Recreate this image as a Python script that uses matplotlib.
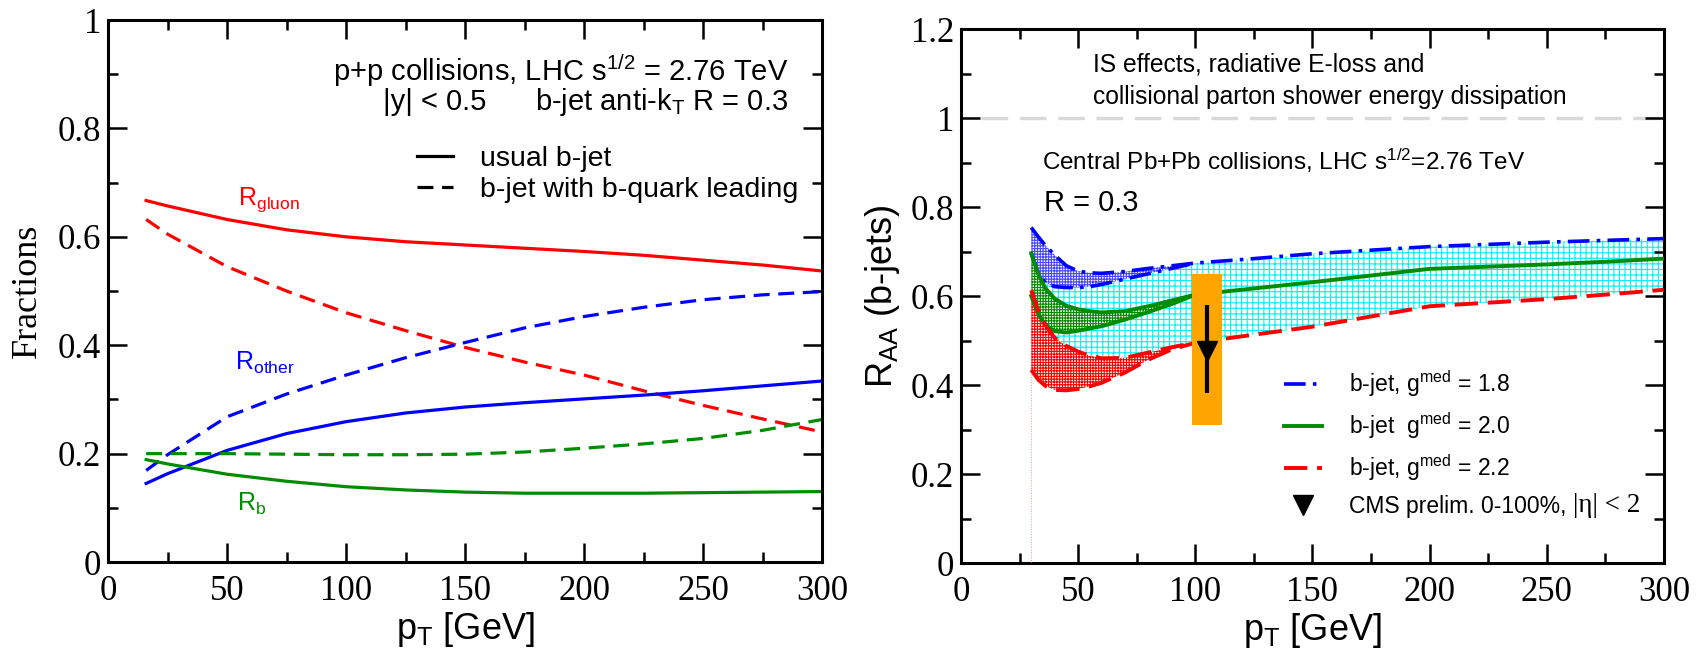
import matplotlib
matplotlib.use("Agg")
import matplotlib.pyplot as plt
from matplotlib.lines import Line2D
from matplotlib.ticker import MultipleLocator, FuncFormatter

# ---------------- p+p parton fractions (left panel) ----------------
pt_pp = [16, 25, 50, 75, 100, 125, 150, 175, 200, 225, 250, 275, 300]
gluon_usual = [0.667, 0.657, 0.632, 0.613, 0.600, 0.591, 0.585, 0.579, 0.573, 0.566, 0.557, 0.548, 0.537]
gluon_lead = [0.632, 0.605, 0.545, 0.500, 0.460, 0.427, 0.396, 0.369, 0.345, 0.316, 0.289, 0.264, 0.240]
other_usual = [0.145, 0.163, 0.206, 0.237, 0.259, 0.275, 0.286, 0.294, 0.301, 0.308, 0.316, 0.325, 0.334]
other_lead = [0.169, 0.198, 0.268, 0.310, 0.345, 0.377, 0.405, 0.432, 0.453, 0.470, 0.484, 0.493, 0.499]
b_usual = [0.189, 0.181, 0.162, 0.149, 0.139, 0.133, 0.129, 0.127, 0.127, 0.127, 0.128, 0.129, 0.130]
b_lead = [0.200, 0.200, 0.200, 0.199, 0.198, 0.198, 0.199, 0.203, 0.210, 0.218, 0.228, 0.243, 0.263]

# ---------------- Pb+Pb b-jet R_AA (right panel) ----------------
pt_aa = [30, 33, 36, 40, 45, 50, 55, 60, 70, 80, 90, 100, 125, 150, 175, 200, 225, 250, 275, 300]
raa_g18 = [0.754, 0.733, 0.714, 0.692, 0.668, 0.656, 0.652, 0.651, 0.655, 0.662, 0.668, 0.674,
           0.684, 0.695, 0.703, 0.711, 0.716, 0.721, 0.725, 0.729]
raa_g20 = [0.696, 0.650, 0.618, 0.594, 0.578, 0.570, 0.566, 0.563, 0.566, 0.577, 0.590, 0.603,
           0.617, 0.631, 0.646, 0.661, 0.666, 0.671, 0.677, 0.684]
raa_g22 = [0.613, 0.568, 0.535, 0.506, 0.488, 0.475, 0.466, 0.460, 0.461, 0.473, 0.485, 0.495,
           0.513, 0.531, 0.554, 0.577, 0.585, 0.593, 0.603, 0.614]

# low-pT lower edges of the three bands
pt_band = [30, 33, 36, 40, 45, 50, 55, 60, 70, 80, 90, 100]
raa_g18_low = [0.696, 0.650, 0.630, 0.621, 0.619, 0.619, 0.621, 0.626, 0.638, 0.650, 0.662, 0.674]
raa_g20_low = [0.600, 0.560, 0.535, 0.521, 0.518, 0.522, 0.527, 0.532, 0.547, 0.564, 0.582, 0.603]
raa_g22_low = [0.434, 0.412, 0.398, 0.389, 0.388, 0.391, 0.397, 0.405, 0.428, 0.457, 0.480, 0.495]

# CMS preliminary point
cms_pt, cms_dpt = 105.0, 6.3
cms_raa = 0.477
cms_stat = (0.381, 0.580)
cms_sys = (0.310, 0.649)

SANS = "Liberation Sans"
SERIF = "Liberation Serif"
plt.rcParams["font.family"] = SANS
plt.rcParams["mathtext.default"] = "regular"
plt.rcParams["hatch.linewidth"] = 0.8

fig = plt.figure(figsize=(17.02, 6.49), dpi=100)
ax1 = fig.add_axes([0.0635, 0.134, 0.4195, 0.8351])
ax2 = fig.add_axes([0.5646, 0.1325, 0.4130, 0.8228])


def style_axes(ax, ymax):
    ax.set_xlim(0, 300)
    ax.set_ylim(0, ymax)
    ax.xaxis.set_major_locator(MultipleLocator(50))
    ax.xaxis.set_minor_locator(MultipleLocator(25))
    ax.yaxis.set_major_locator(MultipleLocator(0.2))
    ax.yaxis.set_minor_locator(MultipleLocator(0.1))
    fmt = FuncFormatter(lambda v, p: f"{v:g}")
    ax.xaxis.set_major_formatter(fmt)
    ax.yaxis.set_major_formatter(fmt)
    ax.tick_params(which="both", direction="in", top=True, right=True, width=1.8,
                   labelsize=25, labelfontfamily=SERIF)
    ax.tick_params(which="major", length=13.5)
    ax.tick_params(which="minor", length=7)
    ax.tick_params(axis="x", pad=9)
    ax.tick_params(axis="y", pad=5)
    for s in ax.spines.values():
        s.set_linewidth(2.2)


style_axes(ax1, 1.0)
style_axes(ax2, 1.2)

RED, BLUE, GREEN = "#ff0000", "#0000ff", "#008c00"
dash = (0, (5, 2.7))
lw = 2.3

# ---- left panel curves
ax1.plot(pt_pp, gluon_usual, color=RED, lw=lw)
ax1.plot(pt_pp, gluon_lead, color=RED, lw=lw, ls=dash)
ax1.plot(pt_pp, other_usual, color=BLUE, lw=lw)
ax1.plot(pt_pp, other_lead, color=BLUE, lw=lw, ls=dash)
ax1.plot(pt_pp, b_usual, color=GREEN, lw=lw)
ax1.plot(pt_pp, b_lead, color=GREEN, lw=lw, ls=dash)

ax1.text(54.6, 0.659, r"R$_{gluon}$", color=RED, fontsize=18, va="baseline")
ax1.text(53.5, 0.354, r"R$_{other}$", color=BLUE, fontsize=18, va="baseline")
ax1.text(54.3, 0.095, r"R$_{b}$", color=GREEN, fontsize=18, va="baseline")

ax1.text(285.7, 0.906, r"p+p collisions, LHC s$^{1/2}$ = 2.76 TeV", ha="right", va="center", fontsize=21)
ax1.text(115.4, 0.849, "|y| < 0.5", ha="left", va="center", fontsize=21)
ax1.text(285.7, 0.849, r"b-jet anti-k$_T$ R = 0.3", ha="right", va="center", fontsize=21)

leg1 = ax1.legend([Line2D([], [], color="black", lw=lw),
                   Line2D([], [], color="black", lw=lw, ls=dash)],
                  ["usual b-jet", "b-jet with b-quark leading"],
                  loc="upper left", bbox_to_anchor=(0.433, 0.767), frameon=False,
                  fontsize=20.5, handlelength=1.27, handletextpad=0.95,
                  labelspacing=0.15, borderpad=0, borderaxespad=0)

ax1.set_xlabel(r"p$_T$ [GeV]", fontsize=26, labelpad=2)
ax1.set_ylabel("Fractions", fontsize=26, family=SERIF, labelpad=10)

# ---- right panel bands
n = len(pt_band)
ax2.fill_between(pt_aa, raa_g18, raa_g22, facecolor="none", edgecolor="#00f2f2",
                 hatch="+++", linewidth=0, zorder=1)
ax2.fill_between(pt_band, raa_g18[:n], raa_g18_low, facecolor="white", edgecolor="#4848ff",
                 hatch="++++++", linewidth=0, zorder=2)
ax2.fill_between(pt_band, raa_g20[:n], raa_g20_low, facecolor="white", edgecolor=GREEN,
                 hatch="++++++", linewidth=0, zorder=2.1)
ax2.fill_between(pt_band, raa_g22[:n], raa_g22_low, facecolor="white", edgecolor=RED,
                 hatch="++++++", linewidth=0, zorder=2.2)

dashdot = (0, (6, 2, 1, 2))
rdash = (0, (6, 2.5))
ax2.plot(pt_aa, raa_g18, color=BLUE, lw=2.6, ls=dashdot, zorder=4)
ax2.plot(pt_band, raa_g18_low, color=BLUE, lw=2.6, ls=dashdot, zorder=4)
ax2.plot(pt_aa, raa_g20, color=GREEN, lw=2.8, zorder=4)
ax2.plot(pt_band, raa_g20_low, color=GREEN, lw=2.8, zorder=4)
ax2.plot(pt_aa, raa_g22, color=RED, lw=2.8, ls=rdash, zorder=4)
ax2.plot(pt_band, raa_g22_low, color=RED, lw=2.8, ls=rdash, zorder=4)
ax2.vlines(pt_band[0], 0, raa_g22_low[0], colors="#ff9090", lw=0.7, linestyles=":", zorder=3)

ax2.axhline(1.0, xmin=8.5 / 300, color="#d9d9d9", lw=2.4, ls=(0, (8, 3.5)), zorder=0)

# CMS point: systematic box and statistical bar
ax2.bar(cms_pt, cms_sys[1] - cms_sys[0], bottom=cms_sys[0], width=2 * cms_dpt,
        color="#ffa500", zorder=6)
ax2.errorbar([cms_pt], [cms_raa], yerr=[[cms_raa - cms_stat[0]], [cms_stat[1] - cms_raa]],
             fmt="v", color="black", ms=15, elinewidth=3, capsize=0, zorder=7)

ax2.text(56.4, 1.120, "IS effects, radiative E-loss and", fontsize=17.7, va="center")
ax2.text(56.4, 1.048, "collisional parton shower energy dissipation", fontsize=17.7, va="center")
ax2.text(34.5, 0.904, r"Central Pb+Pb collisions, LHC s$^{1/2}$=2.76 TeV", fontsize=17.5, va="center")
ax2.text(35.6, 0.809, "R = 0.3", fontsize=21, va="center")

leg2 = ax2.legend([Line2D([], [], color=BLUE, lw=2.6, ls=dashdot),
                   Line2D([], [], color=GREEN, lw=2.8),
                   Line2D([], [], color=RED, lw=2.8, ls=rdash),
                   Line2D([], [], color="black", marker="v", ms=15, ls="none")],
                  [r"b-jet, g$^{med}$ = 1.8", r"b-jet  g$^{med}$ = 2.0",
                   r"b-jet, g$^{med}$ = 2.2", "CMS prelim. 0-100%,"],
                  loc="upper left", bbox_to_anchor=(0.46, 0.365), frameon=False,
                  fontsize=16.5, handlelength=1.63, handletextpad=1.2,
                  labelspacing=0.5, borderpad=0, borderaxespad=0)
# rapidity cut written in serif after the CMS entry (drawn after the legend)
ax2.annotate("|η| < 2", xy=(1, 0), xycoords=leg2.get_texts()[3], xytext=(5, 0),
             textcoords="offset points", ha="left", va="bottom", fontsize=19.5,
             family=SERIF, zorder=10)

ax2.set_xlabel(r"p$_T$ [GeV]", fontsize=26, labelpad=2)
ax2.set_ylabel(r"R$_{AA}$ (b-jets)", fontsize=26, labelpad=6)

fig.savefig("out.png", dpi=100)
